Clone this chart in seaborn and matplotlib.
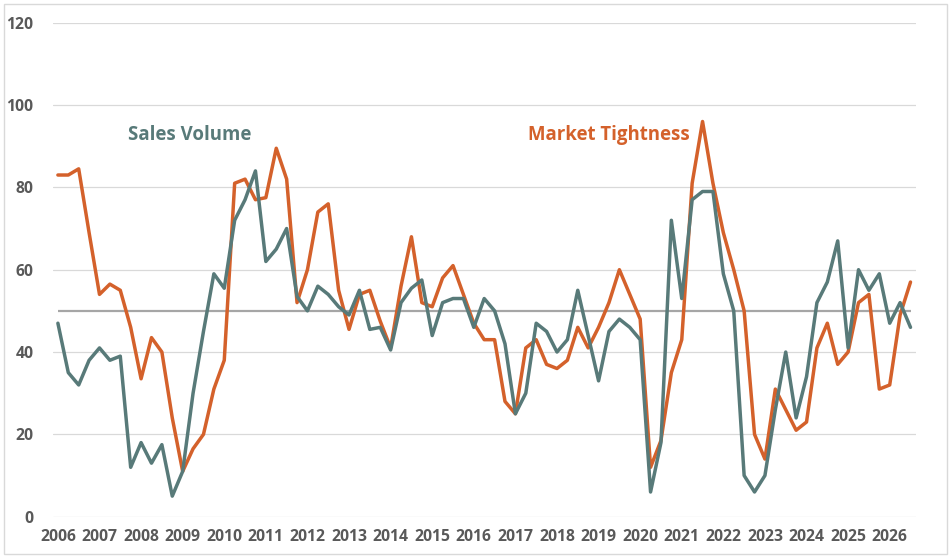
import pandas as pd
import matplotlib.pyplot as plt
import seaborn as sns
from matplotlib.patches import Rectangle

# kvartalsdata 2006 Q1 - 2026 Q3
sales_volume = [47, 35, 32, 38, 41, 38, 39, 12, 18, 13,
                17.5, 5, 11, 30, 45, 59, 55.5, 72, 77, 84,
                62, 65, 70, 53.5, 50, 56, 54, 51, 49, 55,
                45.5, 46, 40.5, 52, 55.5, 57.5, 44, 52, 53, 53,
                46, 53, 50, 42, 25, 30, 47, 45, 40, 43,
                55, 44, 33, 45, 48, 46, 43, 6, 18, 72,
                53, 77, 79, 79, 59, 50, 10, 6, 10, 26,
                40, 24, 34, 52, 57, 67, 41, 60, 55, 59,
                47, 52, 46]
market_tightness = [83, 83, 84.5, 69, 54, 56.5, 55, 46, 33.5, 43.5,
                    40, 24, 11, 16.5, 20, 31, 38, 81, 82, 77,
                    77.5, 89.5, 82, 52, 60, 74, 76, 55, 45.5, 54,
                    55, 47.5, 41, 56, 68, 52, 51, 58, 61, 54,
                    47, 43, 43, 28, 25, 41, 43, 37, 36, 38,
                    46, 41, 46, 52, 60, 54, 48, 12, 18.5, 35,
                    43, 81, 96, 81, 69, 60, 50, 20, 14, 31,
                    26, 21, 23, 41, 47, 37, 40, 52, 54, 31,
                    32, 49, 57]
years = list(range(2006, 2027))
neutral_level = 50
y_ticks = [0, 20, 40, 60, 80, 100, 120]

sv_color = "#587a79"
mt_color = "#d4612b"
text_color = "#595959"

n = len(sales_volume)
df = pd.DataFrame({
    "quarter": list(range(n)) * 2,
    "value": sales_volume + market_tightness,
    "series": ["Sales Volume"] * n + ["Market Tightness"] * n,
})

sns.set_theme(style="white")
plt.rcParams["font.family"] = ["Open Sans", "DejaVu Sans"]

fig = plt.figure(figsize=(9.52, 5.59), dpi=100)
ax = fig.add_axes([52.7 / 952, 1 - 516.7 / 559, 863 / 952, 494 / 559])

# 50-linjen
ax.hlines(neutral_level, 0, n - 1, color="#a6a6a6", linewidth=1.6, zorder=2)

sns.lineplot(
    data=df, x="quarter", y="value", hue="series",
    palette={"Sales Volume": sv_color, "Market Tightness": mt_color},
    hue_order=["Market Tightness", "Sales Volume"],
    linewidth=2.5, legend=False, ax=ax, zorder=3,
)

ax.set_xlim(-0.5, n - 0.5)
ax.set_ylim(0, 120)
ax.set_yticks(y_ticks)
ax.set_xticks(range(0, n, 4))
ax.set_xticklabels([str(y) for y in years])
ax.set_xlabel("")
ax.set_ylabel("")
ax.grid(axis="y", color="#d9d9d9", linewidth=0.9)
ax.set_axisbelow(True)
for spine in ax.spines.values():
    spine.set_visible(False)
ax.tick_params(axis="both", length=0, labelsize=11.3, labelcolor=text_color)
ax.tick_params(axis="y", pad=14)
ax.tick_params(axis="x", pad=9)
for lbl in ax.get_xticklabels() + ax.get_yticklabels():
    lbl.set_fontweight("bold")

# serienavne direkte i plottet
ax.text(6.7, 92.7, "Sales Volume", color=sv_color, fontsize=13.4,
        fontweight="bold", va="center", ha="left")
ax.text(45.2, 92.7, "Market Tightness", color=mt_color, fontsize=13.4,
        fontweight="bold", va="center", ha="left")

# ramme om hele figuren
fig.patches.append(Rectangle((4 / 952, 5 / 559), 943 / 952, 550 / 559,
                             transform=fig.transFigure, fill=False,
                             edgecolor="#d9d9d9", linewidth=1))

fig.savefig("out.png", dpi=100)
